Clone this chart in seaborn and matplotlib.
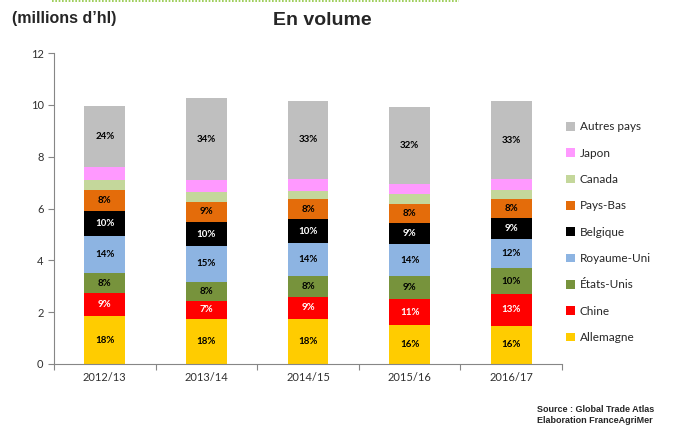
import matplotlib
matplotlib.use('Agg')
import matplotlib.pyplot as plt
from matplotlib.patches import Patch
from matplotlib.lines import Line2D
import seaborn as sns
import pandas as pd
import numpy as np

# 데이터 (millions d'hl)
years = ['2012/13', '2013/14', '2014/15', '2015/16', '2016/17']
allemagne = [1.85, 1.73, 1.74, 1.50, 1.47]
chine = [0.89, 0.71, 0.85, 1.01, 1.23]
etats_unis = [0.77, 0.73, 0.79, 0.87, 1.00]
royaume_uni = [1.42, 1.39, 1.30, 1.25, 1.13]
belgique = [0.99, 0.91, 0.90, 0.82, 0.79]
pays_bas = [0.81, 0.80, 0.78, 0.74, 0.74]
canada = [0.37, 0.38, 0.33, 0.37, 0.37]
japon = [0.49, 0.45, 0.45, 0.39, 0.39]
autres = [2.37, 3.15, 3.01, 2.95, 3.03]

# 막대 안의 비율 라벨
pct_allemagne = ['18%', '18%', '18%', '16%', '16%']
pct_chine = ['9%', '7%', '9%', '11%', '13%']
pct_etats_unis = ['8%', '8%', '8%', '9%', '10%']
pct_royaume_uni = ['14%', '15%', '14%', '14%', '12%']
pct_belgique = ['10%', '10%', '10%', '9%', '9%']
pct_pays_bas = ['8%', '9%', '8%', '8%', '8%']
pct_autres = ['24%', '34%', '33%', '32%', '33%']

series = [
    ('Allemagne', allemagne, '#FFCC00', pct_allemagne, 'black'),
    ('Chine', chine, '#FF0000', pct_chine, 'white'),
    ('États-Unis', etats_unis, '#77933C', pct_etats_unis, 'black'),
    ('Royaume-Uni', royaume_uni, '#8DB4E2', pct_royaume_uni, 'black'),
    ('Belgique', belgique, '#000000', pct_belgique, 'white'),
    ('Pays-Bas', pays_bas, '#E46C0A', pct_pays_bas, 'black'),
    ('Canada', canada, '#C4D79B', None, 'black'),
    ('Japon', japon, '#FF99FF', None, 'black'),
    ('Autres pays', autres, '#BFBFBF', pct_autres, 'black'),
]

sns.set_theme(style='white')
plt.rcParams['font.family'] = ['Lato', 'DejaVu Sans']

fig = plt.figure(figsize=(6.75, 4.3), dpi=100)
ax = fig.add_axes([0.08, 0.1535, 0.7526, 0.7232])

# 누적 막대: 위에서부터 누적 합계를 그림
cum = np.cumsum([s[1] for s in series], axis=0)
for i in range(len(series) - 1, -1, -1):
    df = pd.DataFrame({'year': years, 'value': cum[i]})
    sns.barplot(data=df, x='year', y='value', color=series[i][2],
                saturation=1, width=0.4, ax=ax, linewidth=0)

# 비율 라벨
for i, (name, vals, col, pcts, tcol) in enumerate(series):
    if pcts is None:
        continue
    bottoms = cum[i] - np.array(vals)
    for j in range(len(years)):
        ax.text(j, bottoms[j] + vals[j] / 2, pcts[j], ha='center', va='center',
                fontsize=7, fontweight='bold', color=tcol)

ax.set_ylim(0, 12)
ax.set_xlim(-0.5, 4.5)
ax.set_yticks(range(0, 13, 2))
ax.set_xlabel('')
ax.set_ylabel('')
ax.set_xticks(np.arange(-0.5, 5, 1), minor=True)
ax.tick_params(axis='x', which='major', length=0, labelsize=8, pad=6, colors='#303030')
ax.tick_params(axis='x', which='minor', length=4, width=0.8, color='#868686', direction='out', bottom=True)
ax.tick_params(axis='y', length=4, width=0.8, color='#868686', direction='out', left=True,
               labelsize=8, labelcolor='#303030')
for s in ['top', 'right']:
    ax.spines[s].set_visible(False)
for s in ['left', 'bottom']:
    ax.spines[s].set_color('#868686')
    ax.spines[s].set_linewidth(0.8)

# 범례
handles = [Patch(facecolor=s[2], edgecolor='none', label=s[0]) for s in series[::-1]]
fig.legend(handles=handles, loc='center left', bbox_to_anchor=(0.832, 0.46),
           frameon=False, fontsize=8.5, handlelength=0.75, handleheight=0.75,
           handletextpad=0.4, labelspacing=1.3, borderaxespad=0)

# 제목 및 텍스트
fig.text(0.477, 0.952, 'En volume', ha='center', va='center', fontsize=14,
         fontweight='bold', family='Liberation Sans')
fig.text(0.018, 0.958, '(millions d\u2019hl)', ha='left', va='center', fontsize=11.5,
         fontweight='bold', family='Liberation Sans')
fig.text(0.795, 0.035, 'Source : Global Trade Atlas\nElaboration FranceAgriMer',
         ha='left', va='center', fontsize=6.5, fontweight='bold',
         family='Liberation Sans', linespacing=1.35)

# 상단 점선
fig.add_artist(Line2D([0.077, 0.68], [0.998, 0.998], color='#8DC63F',
                      linestyle=(0, (1, 1)), linewidth=1.2, transform=fig.transFigure))

fig.savefig('out.png', dpi=100)
